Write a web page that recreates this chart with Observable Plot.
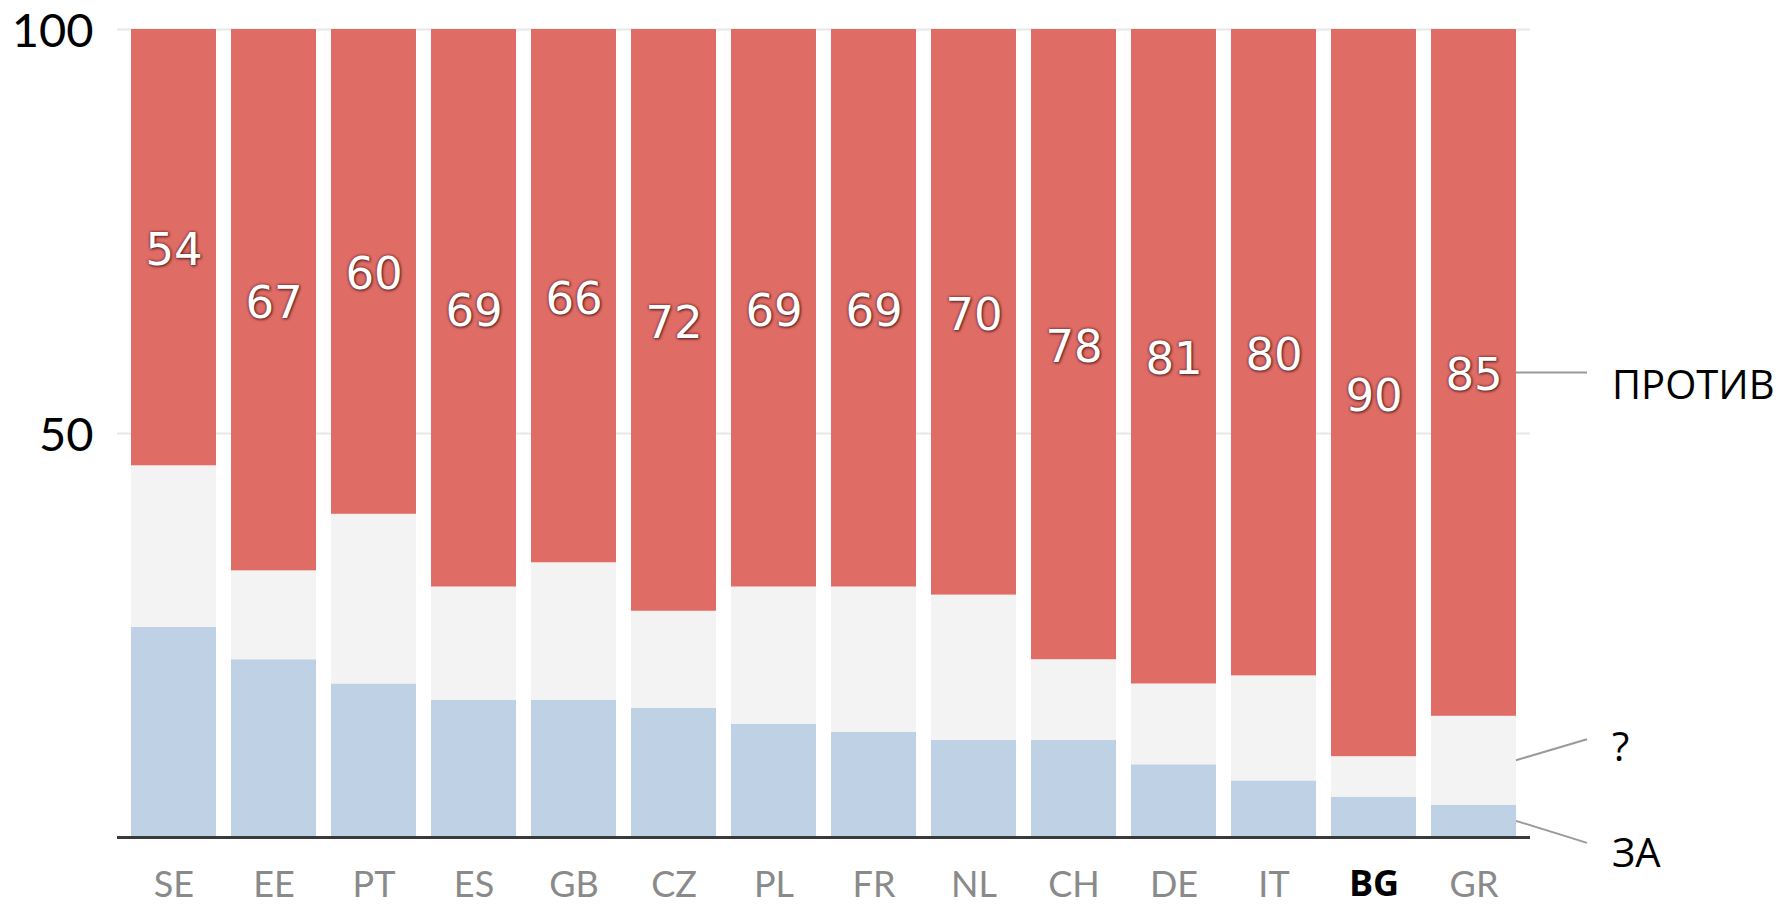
<!DOCTYPE html>
<html><head><meta charset="utf-8">
<script src="https://cdn.jsdelivr.net/npm/d3@7"></script>
<script src="https://cdn.jsdelivr.net/npm/@observablehq/plot@0.6"></script>
<style>
html,body{margin:0;padding:0;background:#fff;}
#chart svg{display:block;}
</style></head><body><div id="chart"></div>
<script>
const countries = ["SE","EE","PT","ES","GB","CZ","PL","FR","NL","CH","DE","IT","BG","GR"];
const za      = [26,22,19,17,17,16,14,13,12,12,9,7,5,4];
const unknown = [20,11,21,14,17,12,17,18,18,10,10,13,5,11];
const against = [54,67,60,69,66,72,69,69,70,78,81,80,90,85];
const seriesNames = ["ЗА","?","ПРОТИВ"];
const seriesColors = ["#BFD1E5","#F3F3F3","#E06C66"];
const yTicks = [50,100];
const highlight = "BG";

const seriesValues = {"ЗА": za, "?": unknown, "ПРОТИВ": against};
const rows = countries.flatMap((c, i) => seriesNames.map(s => ({country: c, series: s, value: seriesValues[s][i]})));

const chart = Plot.plot({
  width: 1785, height: 906,
  marginLeft: 117, marginRight: 255, marginTop: 29, marginBottom: 69,
  style: {background: "#fff", fontFamily: "Lato, sans-serif"},
  x: {domain: countries, paddingInner: 0.155, paddingOuter: 0.1, axis: null},
  y: {domain: [0, 100], axis: null},
  color: {domain: seriesNames, range: seriesColors},
  marks: [
    Plot.ruleY(yTicks, {stroke: "#e8e8e8", strokeWidth: 2}),
    Plot.barY(rows, {x: "country", y: "value", fill: "series", order: seriesNames}),
    Plot.ruleY([0], {stroke: "#3a3a3a", strokeWidth: 3}),
    Plot.text(yTicks, {y: d => d, text: d => String(d), frameAnchor: "left", textAnchor: "end", dx: -24, dy: 2, fontSize: 47, fill: "#000", fontFamily: "Lato"}),
    Plot.text(countries.filter(c => c !== highlight), {x: d => d, y: d => 0, text: d => d, dy: 48, fontSize: 36, fill: "#8a8a8a", fontFamily: "Lato"}),
    Plot.text(countries.filter(c => c === highlight), {x: d => d, y: d => 0, text: d => d, dy: 47, fontSize: 36, fontWeight: "bold", fill: "#000", fontFamily: "Open Sans"}),
    Plot.text(countries, {x: d => d, y: (d, i) => 100 - against[i] / 2, text: (d, i) => String(against[i]), dy: 3, fontSize: 45, fill: "white", fontFamily: "DejaVu Sans"})
  ]
});

const svg = d3.select(chart);
svg.selectAll('g[fill="white"] text').style("text-shadow", "0 0 3px rgba(90,20,20,0.95), 1px 1px 3px rgba(0,0,0,0.6)");

// leader lines + labels anchored on the last country's segments
const xs = chart.scale("x"), ys = chart.scale("y");
const last = countries.length - 1;
const lastName = countries[last];
const xStart = xs.apply(lastName) + xs.bandwidth;
const leader = {"ПРОТИВ": {endDy: 0, textDy: 27}, "?": {endDy: -21, textDy: 22}, "ЗА": {endDy: 22, textDy: 24}};
let cum = 0;
seriesNames.forEach(s => {
  const v = seriesValues[s][last];
  const mid = cum + v / 2;
  cum += v;
  const y0 = ys.apply(mid);
  const y1 = y0 + leader[s].endDy;
  const x1 = xStart + 71;
  svg.append("line").attr("x1", xStart).attr("y1", y0).attr("x2", x1).attr("y2", y1)
    .attr("stroke", "#9a9a9a").attr("stroke-width", 2);
  svg.append("text").attr("x", x1 + 25).attr("y", y1 + leader[s].textDy)
    .attr("text-anchor", "start")
    .attr("font-family", "Open Sans").attr("font-size", 40).attr("fill", "#000").text(s);
});

document.getElementById("chart").appendChild(chart);
</script></body></html>
